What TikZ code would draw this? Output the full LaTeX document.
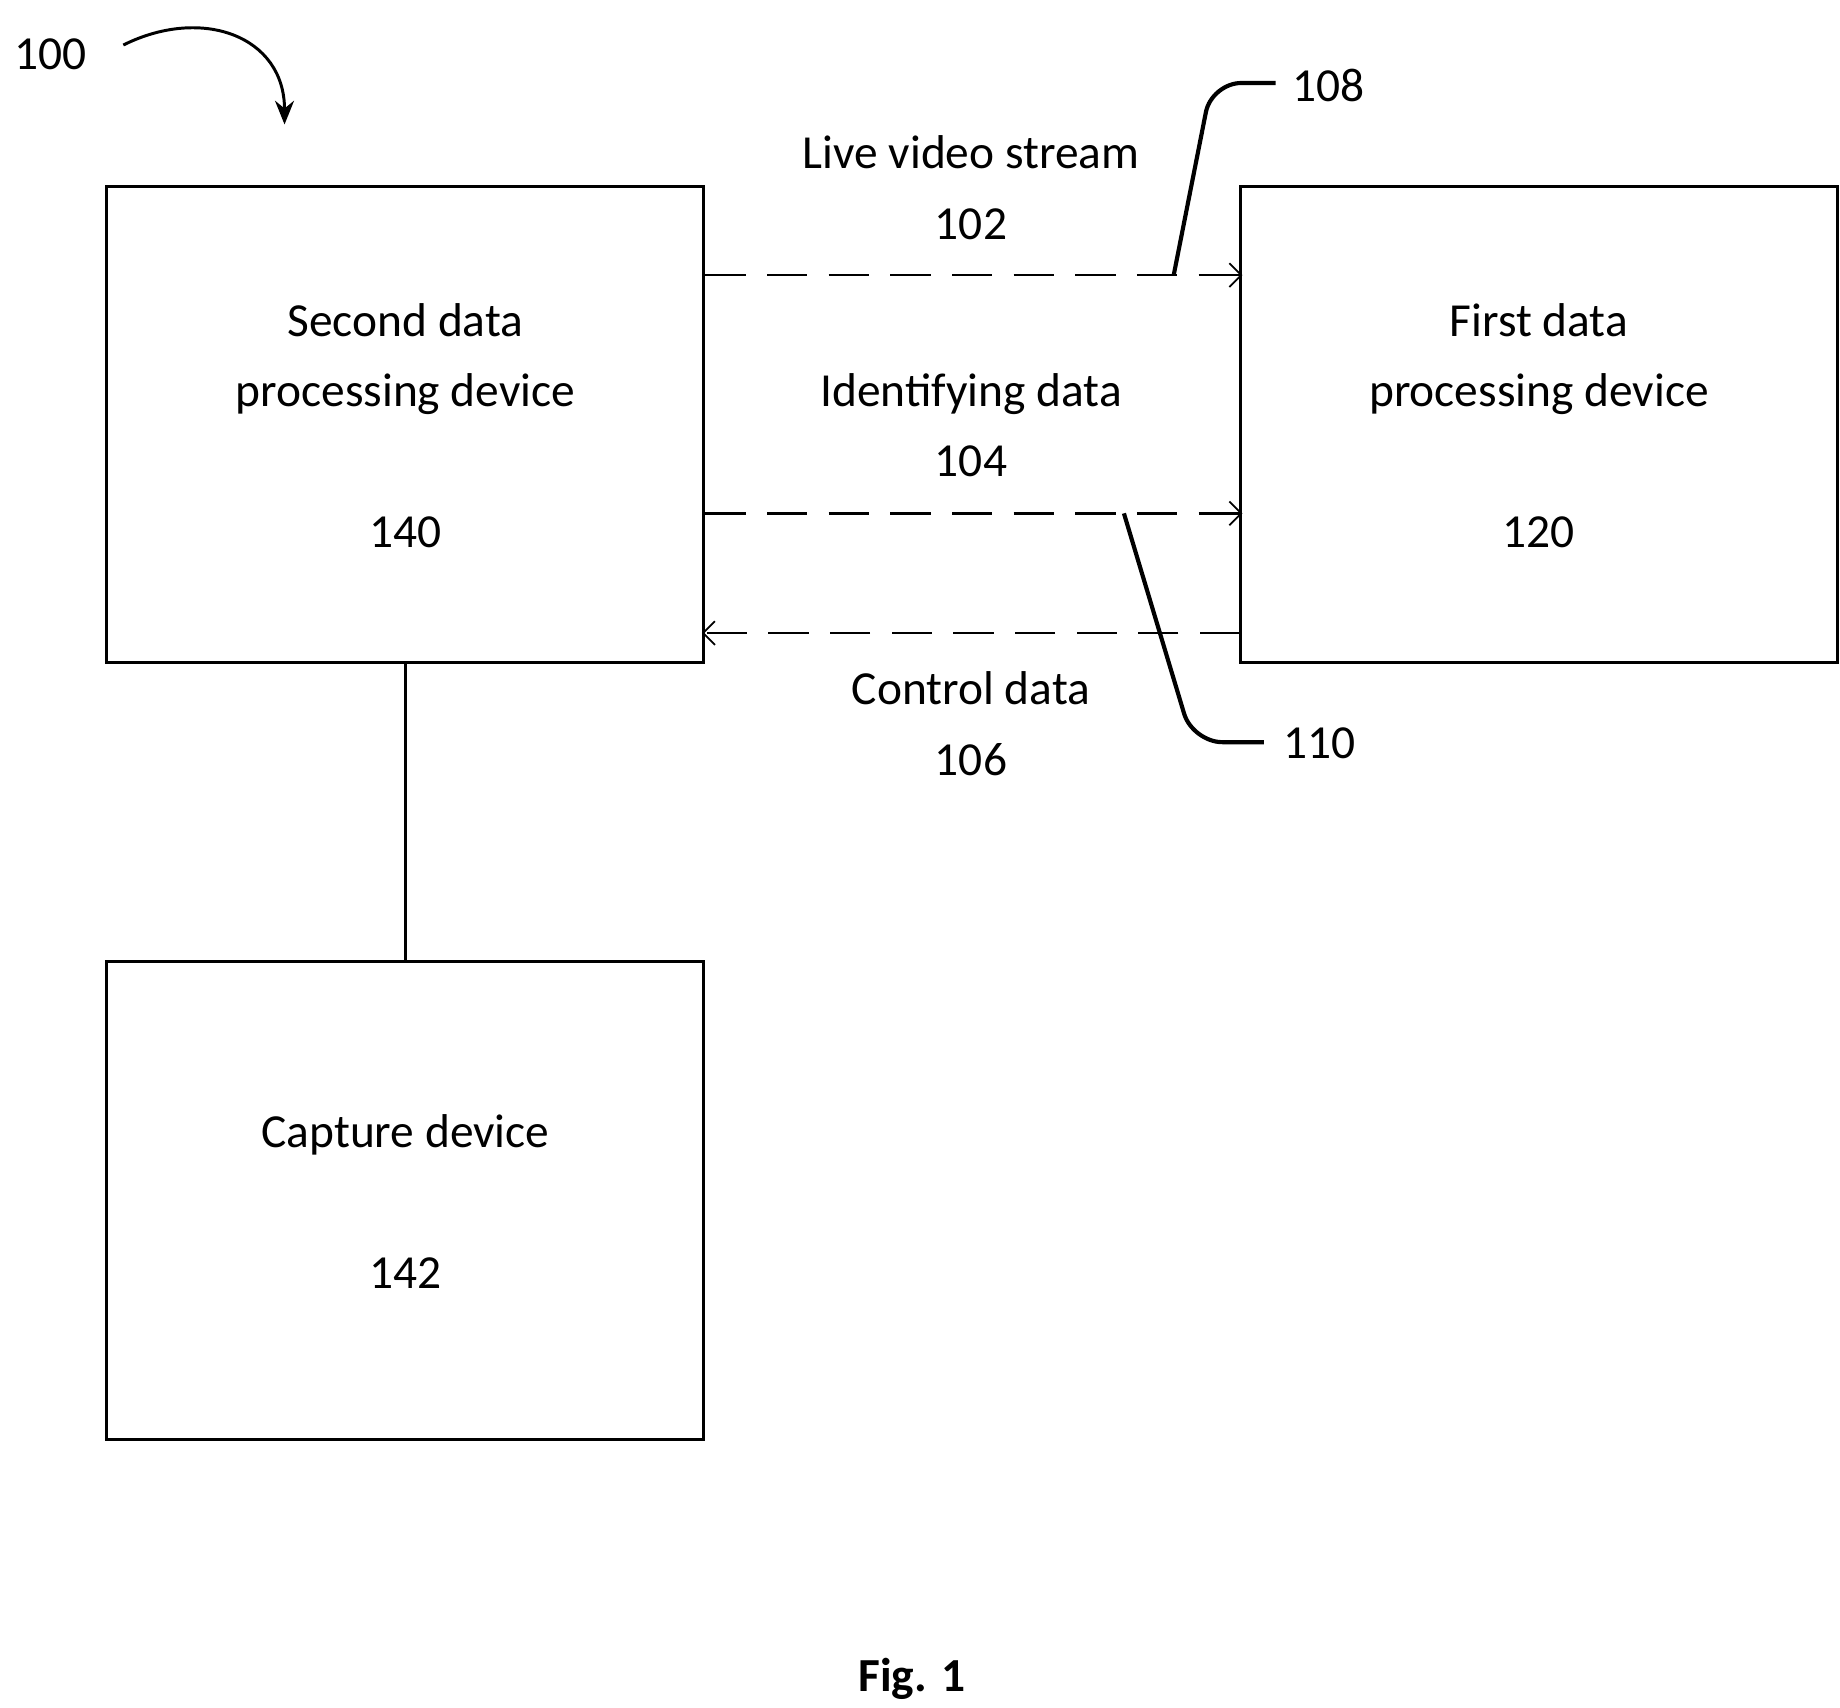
\documentclass[tikz,border=0pt]{standalone}
\usepackage{fontspec}
\setmainfont{Carlito}
\usetikzlibrary{arrows.meta}
\begin{document}
\begin{tikzpicture}[x=1pt,y=-1pt,
  box/.style={draw,line width=2.5pt},
  lbl/.style={font=\fontsize{40}{48}\selectfont,inner sep=0pt,anchor=base},
  dashed flow/.style={line width=2pt,dash pattern=on 34pt off 18pt,-{Straight Barb[length=10pt,width=20pt,line width=1.5pt]}},
  lead/.style={line width=3.5pt,rounded corners=25pt}]
\useasboundingbox (0,0) rectangle (1552,1440);
\draw[box] (90,157) rectangle (593,559);
\draw[box] (1046,157) rectangle (1550,559);
\draw[box] (90,811) rectangle (593,1214);
\coordinate (b140s) at (342,559); \coordinate (b142n) at (342,811);
\draw[line width=2pt] (b140s) -- (b142n);
\node[lbl] (t1) at (342,284) {Second data};
\node[lbl] (t2) at (342,343) {processing device};
\node[lbl] (t3) at (342,462) {140};
\node[lbl] (t4) at (1298,284) {First data};
\node[lbl] (t5) at (1298,343) {processing device};
\node[lbl] (t6) at (1298,462) {120};
\node[lbl] (t7) at (342,968) {Capture device};
\node[lbl] (t8) at (342,1087) {142};
\node[lbl] (l1) at (819,142) {Live video stream};
\node[lbl] (l2) at (819,202) {102};
\node[lbl] (l3) at (819,343) {Identifying data};
\node[lbl] (l4) at (819,402) {104};
\node[lbl] (l5) at (819,594) {Control data};
\node[lbl] (l6) at (819,654) {106};
\coordinate (a1) at (595,232); \coordinate (a2) at (1048,232);
\coordinate (c1) at (595,433); \coordinate (c2) at (1048,433);
\coordinate (d1) at (1046,534); \coordinate (d2) at (592,534);
\draw[dashed flow] (a1) -- (a2);
\draw[dashed flow] (c1) -- (c2);
\draw[dashed flow] (d1) -- (d2);
\node[lbl,anchor=base west] (n108) at (1090,86) {108};
\node[lbl,anchor=base west] (n110) at (1082,640) {110};
\node[lbl,anchor=base west] (n100) at (12,59) {100};
\draw[lead] (990,232) -- (1022,70) -- (1076,70);
\draw[lead] (948,433) -- (1006,626) -- (1066,626);
\draw[line width=2.5pt,-{Stealth[length=20pt,width=16pt]}] (104,38) .. controls (170,5) and (240,30) .. (240,105);
\node[lbl,font=\fontsize{40}{48}\selectfont\bfseries] (fig) at (769,1427) {Fig. 1};
\end{tikzpicture}
\end{document}
